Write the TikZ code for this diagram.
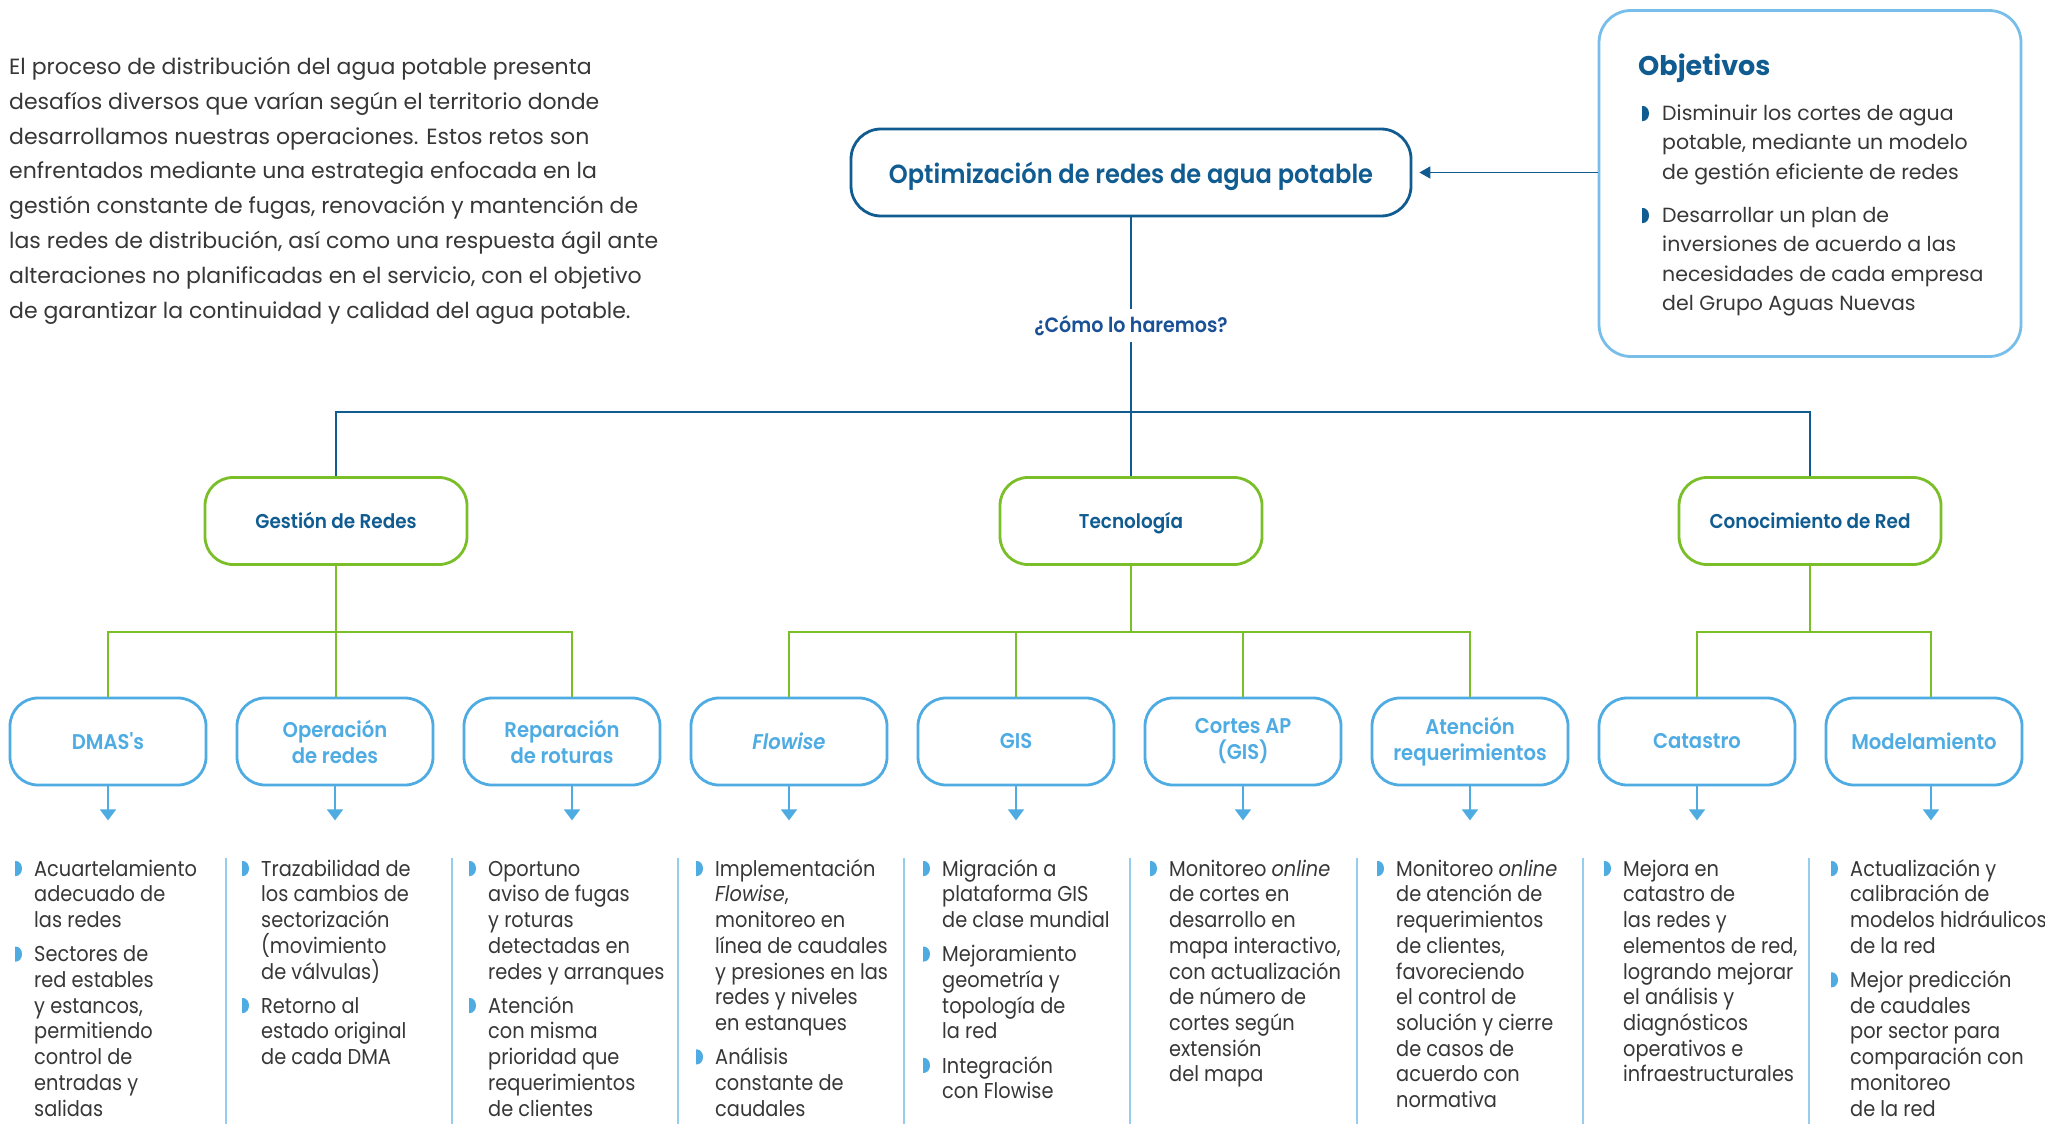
\documentclass[tikz,border=0pt]{standalone}
\usepackage{fontspec}
\setmainfont{Poppins}
\newfontfamily\regf{Poppins}
\newfontfamily\condf{Poppins}[FakeStretch=0.9]
\newfontfamily\semif{Poppins}[UprightFont=* SemiBold, ItalicFont=* SemiBold Italic, BoldFont=* Bold, FakeStretch=0.92]
\usetikzlibrary{arrows.meta,calc}
\definecolor{dblue}{RGB}{16,92,145}
\definecolor{cblue}{RGB}{25,80,150}
\definecolor{lblue}{RGB}{79,172,227}
\definecolor{obox}{RGB}{120,190,235}
\definecolor{lgreen}{RGB}{122,190,40}
\definecolor{txt}{RGB}{55,55,55}
\definecolor{sepc}{RGB}{150,205,238}
\newcommand\fl{\rule{0pt}{22pt}}
\newcommand\itm[5]{%
  \pic[#5] at ($(#2,#3)+(-19,-7.5)$) {bul};
  \node[btext] (#1) at ($(#2,#3)+(0,-22)$) {\fl #4};
}
\begin{document}
\begin{tikzpicture}[x=1pt,y=-1pt,
  bul/.pic={\fill (0,-7.5) -- (0,7.5) -- (1,7.5) arc[start angle=90,end angle=-90,x radius=6,y radius=7.5] -- cycle;},
  mainbox/.style={draw=dblue, line width=2.8pt, rounded corners=30pt, minimum width=560pt, minimum height=87pt, inner sep=0pt, text height=28pt, text depth=6pt, text=dblue, font=\semif\fontsize{26.2}{30}\selectfont},
  lvtwo/.style={draw=lgreen, line width=2.8pt, rounded corners=28pt, minimum width=262pt, minimum height=87pt, inner sep=0pt, text height=19pt, text depth=5pt, text=dblue, font=\semif\fontsize{20}{24}\selectfont, align=center},
  lvthree/.style={draw=lblue, line width=2.8pt, rounded corners=28pt, minimum width=196pt, minimum height=87pt, inner sep=0pt, text=lblue, font=\semif\fontsize{21.3}{26}\selectfont, align=center},
  objbox/.style={draw=obox, line width=2.8pt, rounded corners=32pt, minimum width=422pt, minimum height=346pt, inner sep=0pt},
  btext/.style={anchor=north west, inner sep=0pt, align=left, text=txt, font=\condf\fontsize{21.5}{25.7}\selectfont},
  otext/.style={anchor=north west, inner sep=0pt, align=left, text=txt, font=\regf\fontsize{20.5}{29.5}\selectfont},
  itext/.style={anchor=north west, inner sep=0pt, align=left, text=txt, font=\regf\fontsize{22}{34.9}\selectfont},
  bline/.style={draw=dblue, line width=1.6pt},
  gline/.style={draw=lgreen, line width=1.6pt},
  larrow/.style={draw=lblue, line width=1.8pt, -{Triangle[length=11pt,width=16pt]}},
  sepline/.style={draw=sepc, line width=1.4pt}]
\fill[white] (0,0) rectangle (2045,1124);
\useasboundingbox (0,0) rectangle (2045,1124);

% intro
\node[itext] (intro) at (9,52) {\fl El proceso de distribución del agua potable presenta\\
desafíos diversos que varían según el territorio donde\\
desarrollamos nuestras operaciones. Estos retos son\\
enfrentados mediante una estrategia enfocada en la\\
gestión constante de fugas, renovación y mantención de\\
las redes de distribución, así como una respuesta ágil ante\\
alteraciones no planificadas en el servicio, con el objetivo\\
de garantizar la continuidad y calidad del agua potable.};

% objectives
\node[objbox] (obj) at (1810,183.5) {};
\node[anchor=base west, inner sep=0pt, text=dblue, font=\regf\bfseries\fontsize{27}{32}\selectfont] (objt) at (1638,75) {Objetivos};
\pic[dblue] at (1642,113.5) {bul};
\node[otext] (o1) at (1662,98) {\fl Disminuir los cortes de agua\\ potable, mediante un modelo\\ de gestión eficiente de redes};
\pic[dblue] at (1642,215.5) {bul};
\node[otext] (o2) at (1662,200) {\fl Desarrollar un plan de\\ inversiones de acuerdo a las\\ necesidades de cada empresa\\ del Grupo Aguas Nuevas};

% main
\node[mainbox] (main) at (1131,172.5) {Optimización de redes de agua potable};
\draw[dblue, line width=1.8pt, -{Triangle[length=11pt,width=12pt]}] (obj.west |- main.east) -- ($(main.east)+(7,0)$);

\node[inner sep=6pt, text=cblue, font=\semif\fontsize{20.7}{24}\selectfont] (como) at (1131,325.5) {¿Cómo lo haremos?};
\coordinate (j) at (1131,412);

% level 2
\node[lvtwo] (gr) at (336,521) {Gestión de Redes};
\node[lvtwo] (tec) at (1131,521) {Tecnología};
\node[lvtwo] (con) at (1810,521) {Conocimiento de Red};

\draw[bline] (main.south) -- (como.north);
\draw[bline] (como.south) -- (j);
\draw[bline] (gr.north) |- (j) -| (con.north);
\draw[bline] (j) -- (tec.north);

% level 3
\node[lvthree] (d1) at (108,741.5) {DMAS's};
\node[lvthree] (d2) at (335,741.5) {Operación\\de redes};
\node[lvthree] (d3) at (562,741.5) {Reparación\\de roturas};
\node[lvthree] (d4) at (789,741.5) {\itshape Flowise};
\node[lvthree] (d5) at (1016,741.5) {GIS};
\node[lvthree] (d6) at (1243,741.5) {Cortes AP\\(GIS)};
\node[lvthree] (d7) at (1470,741.5) {Atención\\requerimientos};
\node[lvthree] (d8) at (1697,741.5) {Catastro};
\node[lvthree] (d9) at (1924,741.5) {Modelamiento};

\coordinate (d3t) at ($(d3.north)+(10,0)$);
\coordinate (d3b) at ($(d3.south)+(10,0)$);
\coordinate (d9t) at ($(d9.north)+(7,0)$);
\coordinate (d9b) at ($(d9.south)+(7,0)$);

\coordinate (gj) at ($(gr.south)+(0,66)$);
\draw[gline] (gr.south) -- (gj);
\draw[gline] (d1.north) |- (gj) -| (d3t);
\draw[gline] (gj) -- (gj |- d2.north);

\coordinate (tj) at ($(tec.south)+(0,66)$);
\draw[gline] (tec.south) -- (tj);
\draw[gline] (d4.north) |- (tj) -| (d7.north);
\draw[gline] (d5.north) |- (tj);
\draw[gline] (d6.north) |- (tj);

\coordinate (cj) at ($(con.south)+(0,66)$);
\draw[gline] (con.south) -- (cj);
\draw[gline] (d8.north) |- (cj) -| (d9t);

\foreach \n in {d1,d2,d4,d5,d6,d7,d8} \draw[larrow] (\n.south) -- ++(0,34);
\draw[larrow] (d3b) -- ++(0,34);
\draw[larrow] (d9b) -- ++(0,34);

\foreach \sx in {226,452,678,904,1130,1357,1583,1809} \draw[sepline] (\sx,858) -- (\sx,1124);

% bottom texts
\itm{t1a}{34}{876}{Acuartelamiento\\adecuado de\\las redes}{lblue}
\itm{t1b}{34}{961.6}{Sectores de\\red estables\\y estancos,\\permitiendo\\control de\\entradas y\\salidas}{lblue}
\itm{t2a}{261}{876}{Trazabilidad de\\los cambios de\\sectorización\\(movimiento\\de válvulas)}{lblue}
\itm{t2b}{261}{1013}{Retorno al\\estado original\\de cada DMA}{lblue}
\itm{t3a}{488}{876}{Oportuno\\aviso de fugas\\y roturas\\detectadas en\\redes y arranques}{lblue}
\itm{t3b}{488}{1013}{Atención\\con misma\\prioridad que\\requerimientos\\de clientes}{lblue}
\itm{t4a}{715}{876}{Implementación\\\textit{Flowise},\\monitoreo en\\línea de caudales\\y presiones en las\\redes y niveles\\en estanques}{lblue}
\itm{t4b}{715}{1064.4}{Análisis\\constante de\\caudales}{lblue}
\itm{t5a}{942}{876}{Migración a\\plataforma GIS\\de clase mundial}{lblue}
\itm{t5b}{942}{961.6}{Mejoramiento\\geometría y\\topología de\\la red}{lblue}
\itm{t5c}{942}{1072.9}{Integración\\con Flowise}{lblue}
\itm{t6a}{1169}{876}{Monitoreo \textit{online}\\de cortes en\\desarrollo en\\mapa interactivo,\\con actualización\\de número de\\cortes según\\extensión\\del mapa}{lblue}
\itm{t7a}{1396}{876}{Monitoreo \textit{online}\\de atención de\\requerimientos\\de clientes,\\favoreciendo\\el control de\\solución y cierre\\de casos de\\acuerdo con\\normativa}{lblue}
\itm{t8a}{1623}{876}{Mejora en\\catastro de\\las redes y\\elementos de red,\\logrando mejorar\\el análisis y\\diagnósticos\\operativos e\\infraestructurales}{lblue}
\itm{t9a}{1850}{876}{Actualización y\\calibración de\\modelos hidráulicos\\de la red}{lblue}
\itm{t9b}{1850}{987.3}{Mejor predicción\\de caudales\\por sector para\\comparación con\\monitoreo\\de la red}{lblue}
\end{tikzpicture}
\end{document}
